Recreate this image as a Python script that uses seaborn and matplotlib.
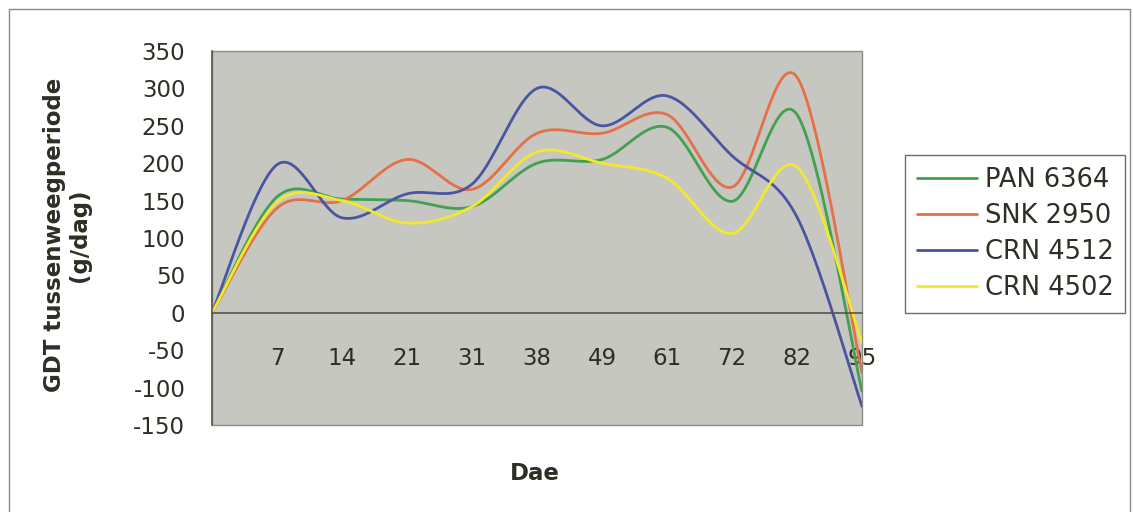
import numpy as np
import pandas as pd
import matplotlib
matplotlib.use("Agg")
import matplotlib.pyplot as plt
from matplotlib.patches import Rectangle
import seaborn as sns

# Days after start (first category is the unlabelled starting point)
days = ["", "7", "14", "21", "31", "38", "49", "61", "72", "82", "95"]
varieties = ["PAN 6364", "SNK 2950", "CRN 4512", "CRN 4502"]

# Average daily gain between weighings (g/dag)
pan_6364 = [0, 155, 152, 150, 142, 200, 205, 248, 149, 265, -105]
snk_2950 = [0, 140, 150, 205, 165, 240, 240, 265, 168, 315, -80]
crn_4512 = [0, 198, 127, 159, 172, 300, 250, 290, 210, 128, -125]
crn_4502 = [0, 148, 150, 120, 142, 215, 200, 180, 106, 195, -40]

line_colors = ["#42a050", "#e4704a", "#4a55a2", "#f2e82e"]

TEXT = "#2e2e24"
AXIS = "#55554a"


def smoothed(values, steps=40):
    """Cubic Bezier segments through every point (spreadsheet-style smoothed line)."""
    y = np.asarray(values, dtype=float)
    n = len(y)
    x = np.arange(n, dtype=float)
    xs, ys = [x[0]], [y[0]]
    t = np.linspace(0, 1, steps + 1)[1:]
    b0, b1, b2, b3 = (1 - t) ** 3, 3 * t * (1 - t) ** 2, 3 * t ** 2 * (1 - t), t ** 3
    for i in range(n - 1):
        i0, i3 = max(i - 1, 0), min(i + 2, n - 1)
        c1x = x[i] + (x[i + 1] - x[i0]) / 6
        c1y = y[i] + (y[i + 1] - y[i0]) / 6
        c2x = x[i + 1] - (x[i3] - x[i]) / 6
        c2y = y[i + 1] - (y[i3] - y[i]) / 6
        xs.extend(b0 * x[i] + b1 * c1x + b2 * c2x + b3 * x[i + 1])
        ys.extend(b0 * y[i] + b1 * c1y + b2 * c2y + b3 * y[i + 1])
    return np.array(xs), np.array(ys)


frames = []
for name, series in zip(varieties, [pan_6364, snk_2950, crn_4512, crn_4502]):
    px, py = smoothed(series)
    frames.append(pd.DataFrame({"pos": px, "gdt": py, "variety": name}))
table = pd.concat(frames, ignore_index=True)

sns.set_theme(style="white")
plt.rcParams.update({
    "font.family": ["DejaVu Sans"],
    "axes.unicode_minus": False,
    "text.color": TEXT,
})

fig = plt.figure(figsize=(11.33, 5.12), dpi=100)
fig.patch.set_facecolor("white")
ax = fig.add_axes([212 / 1133, 1 - 425 / 512, 650 / 1133, 374 / 512])

sns.lineplot(data=table, x="pos", y="gdt", hue="variety", hue_order=varieties,
             palette=line_colors, sort=False, estimator=None, linewidth=2.0, ax=ax)

ax.set_xlim(0, len(days) - 1)
ax.set_ylim(-150, 350)
ax.set_facecolor("#c7c7c1")
ax.patch.set_edgecolor("#8c8c84")
ax.patch.set_linewidth(1.0)

for side in ("top", "right"):
    ax.spines[side].set_visible(False)
ax.spines["left"].set_color(AXIS)
ax.spines["left"].set_linewidth(1.2)
ax.spines["bottom"].set_position(("data", 0))
ax.spines["bottom"].set_color(AXIS)
ax.spines["bottom"].set_linewidth(1.2)

ax.set_xticks(range(len(days)))
ax.set_xticklabels(days)
ax.set_yticks(range(-150, 351, 50))
ax.tick_params(axis="y", direction="out", length=7.2, width=1.1, color=AXIS,
               pad=12, labelsize=16.5, labelcolor=TEXT)
ax.tick_params(axis="x", direction="inout", length=10.8, width=1.1, color=AXIS,
               pad=19, labelsize=16.5, labelcolor=TEXT)

ax.set_ylabel("GDT tussenweegperiode\n(g/dag)", fontsize=16.5, fontweight="bold",
              color=TEXT, linespacing=1.1)
ax.yaxis.set_label_coords(-0.186, 0.508)
ax.set_xlabel("Dae", fontsize=16.5, fontweight="bold", color=TEXT)
ax.xaxis.set_label_coords(0.497, -0.099)

handles, labels = ax.get_legend_handles_labels()
for h in handles:
    h.set_linewidth(2.0)
ax.legend(handles, labels, loc="upper left",
          bbox_to_anchor=(905 / 1133, 1 - 155 / 512), bbox_transform=fig.transFigure,
          borderaxespad=0, frameon=True, fancybox=False, edgecolor="#6e6e66",
          facecolor="white", framealpha=1, fontsize=18.5, handlelength=2.35,
          handletextpad=0.3, labelspacing=0.4, borderpad=0.45)
ax.get_legend().get_frame().set_linewidth(1.0)

# outer chart border
fig.add_artist(Rectangle((9 / 1133, -0.02), (1130 - 9) / 1133, 1.02 - 9 / 512,
                         transform=fig.transFigure, fill=False,
                         edgecolor="#8a8a8a", linewidth=1.0))

fig.savefig("out.png", dpi=100, facecolor="white")
